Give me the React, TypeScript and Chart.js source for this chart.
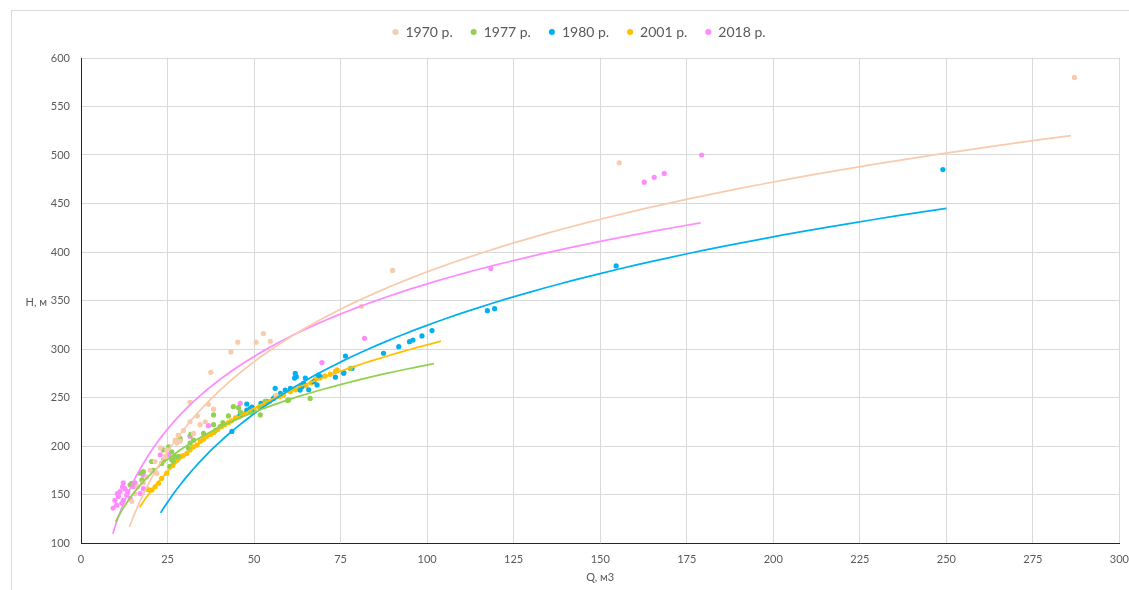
import React, { useEffect, useRef } from 'react';
import { Chart, registerables } from 'chart.js';

Chart.register(...registerables);

// ---- series labels & colours ----
const seriesNames = ['1970 р.', '1977 р.', '1980 р.', '2001 р.', '2018 р.'];
const seriesColors = ['#F8CBAD', '#92D050', '#00B0F0', '#FFC000', '#FF8BFF'];

// ---- observed points (Q, м3 / H, м) ----
const q1970 = [287, 155.5, 90, 81, 52.7, 54.7, 50.6, 45.3, 43.3, 37.5, 56.4, 31.5, 36.8, 38.3, 33.6, 35.9, 34.4, 31.5, 29.6, 32.5, 28.1, 27.7, 27.2, 24.8, 22.9, 24.3, 21.4, 20, 21.9, 19, 18, 16.3, 15.6, 14.7, 28.6];
const h1970 = [580, 492, 381, 344, 316, 308, 307, 307, 297, 276, 252, 245, 243, 238, 231, 225, 222, 225, 216, 213, 211, 203, 206, 196, 198, 189, 184, 175, 172, 168, 162, 158, 151, 143, 205];

const q1977 = [14.7, 14.2, 17.1, 17.6, 18, 20.4, 20.9, 23.3, 23.8, 23.8, 25.3, 25.7, 26.2, 26.2, 26.7, 27.2, 28.1, 28.6, 28.6, 31, 31.5, 31.7, 32.5, 35.4, 38.3, 38.3, 38.8, 40.2, 41, 42.6, 44, 45.5, 46, 48.9, 51.8, 51.8, 53.2, 59.7, 60, 66.2, 77.8];
const h1977 = [161.5, 160, 172, 165, 173.5, 184, 175, 182, 196, 185.6, 199, 179, 186, 194, 184, 189, 189, 208, 206, 198, 203, 212, 206, 213, 232, 222, 216, 220, 224, 231, 240.5, 239.5, 235, 235, 232, 241, 246, 247, 247.5, 249, 280];

const q1980 = [249, 154.6, 117.4, 119.5, 101.4, 98.5, 95.9, 94.9, 91.8, 87.4, 76.4, 75.9, 75.9, 78.3, 73.5, 68.6, 68.2, 65.8, 64.8, 61.9, 62.2, 60.5, 59, 56.1, 57.6, 55.6, 63.8, 64.3, 67.2, 69.1, 63.3, 61.7, 49.4, 47.9, 47.9, 48.9, 49.4, 46, 43.6, 52, 53.5];
const h1980 = [485, 385.6, 339.5, 341.6, 319, 313.5, 309.3, 307.6, 302.4, 295.6, 292.8, 275.6, 275, 280, 271, 273, 263, 258, 270, 275, 271.5, 259.5, 257.7, 259.5, 254.3, 249, 261, 264.6, 266.3, 271.5, 257.7, 270, 240, 237, 243.3, 238.8, 235.4, 232, 215, 244, 246];

const q2001 = [19.4, 20.5, 21.4, 22.4, 23.3, 24.8, 25.7, 26.5, 27.7, 28.6, 29.5, 30.6, 31.5, 32.4, 33.5, 34.5, 35.4, 36.3, 37.5, 38.4, 39.5, 40.6, 41.5, 42.6, 43.5, 44.6, 45.5, 46.6, 47.5, 48.6, 50, 51.5, 53, 54.5, 56.1, 57.5, 58.5, 60.5, 62, 63.3, 65, 66.5, 67.7, 68.2, 69, 70.5, 72, 73.5, 74];
const h2001 = [155, 154.6, 158, 161.5, 166.7, 172, 178.7, 180, 185.6, 189, 190, 192.5, 196, 199, 201, 205, 207, 210, 212, 214, 217, 220, 222, 224, 226, 229, 230, 233, 234, 236, 238, 240, 243, 246, 251.5, 251, 252.6, 256, 258, 261, 262, 265, 268.8, 269.8, 270, 272, 274, 277, 278.4];

const q2018 = [179.3, 162.7, 165.6, 168.5, 118.4, 81.9, 69.6, 61.9, 46, 36.8, 31.5, 25.3, 22.9, 18, 18, 17.1, 15.6, 15.1, 14.2, 13.2, 12.7, 12.2, 12.2, 11.3, 10.8, 10.3, 9.8, 9.3, 11.8, 13.5, 10.5, 12];
const h2018 = [500, 472, 477, 481, 383, 311, 286, 272, 244, 221, 210, 191, 191, 170, 156, 151, 162, 158, 146, 149.5, 156, 162, 144, 153, 148, 139, 144, 136, 141, 153, 151, 158];

const seriesQ = [q1970, q1977, q1980, q2001, q2018];
const seriesH = [h1970, h1977, h1980, h2001, h2018];

// ---- logarithmic trendlines H = a·ln(Q) + b ----
const trendA = [133.7, 70.2, 131.6, 94.4, 108];
const trendB = [-236.2, -39.7, -281.6, -130.4, -130.2];
const trendFrom = [14, 10, 23, 17, 9.2];
const trendTo = [286, 102, 250, 104, 179];

// ---- axes ----
const xMin = 0, xMax = 300, xStep = 25;
const yMin = 100, yMax = 600, yStep = 50;
const xTitle = 'Q, м3';
const yTitle = 'Н, м';

const FONT = 'Lato';
const TEXT = '#595959';
const CANVAS_W = 1139;
const CANVAS_H = 590;

function trendPoints(i: number) {
  const pts: { x: number; y: number }[] = [];
  const n = 80;
  for (let k = 0; k <= n; k++) {
    const q = trendFrom[i] * Math.pow(trendTo[i] / trendFrom[i], k / n);
    pts.push({ x: q, y: trendA[i] * Math.log(q) + trendB[i] });
  }
  return pts;
}

const axisTitlesPlugin = {
  id: 'axisTitles',
  afterDraw(chart: any) {
    const { ctx, chartArea, scales } = chart;
    ctx.save();
    ctx.font = `11px ${FONT}`;
    ctx.fillStyle = TEXT;
    ctx.textBaseline = 'middle';
    ctx.textAlign = 'right';
    ctx.fillText(yTitle, 47, scales.y.getPixelForValue(350) + 2);
    ctx.textAlign = 'center';
    ctx.fillText(xTitle, (chartArea.left + chartArea.right) / 2, 577);
    ctx.restore();
  },
};

export default function App() {
  const ref = useRef<HTMLCanvasElement | null>(null);

  useEffect(() => {
    if (!ref.current) return;
    const scatterSets = seriesNames.map((name, i) => ({
      type: 'scatter' as const,
      label: name,
      data: seriesQ[i].map((q, j) => ({ x: q, y: seriesH[i][j] })),
      backgroundColor: seriesColors[i],
      borderColor: seriesColors[i],
      pointRadius: 2.6,
      pointBorderWidth: 0,
      pointStyle: 'circle',
      showLine: false,
      order: 1,
    }));
    const trendSets = seriesNames.map((name, i) => ({
      type: 'line' as const,
      label: name + ' trend',
      data: trendPoints(i),
      borderColor: seriesColors[i],
      backgroundColor: seriesColors[i],
      borderWidth: 1.75,
      pointRadius: 0,
      fill: false,
      tension: 0,
      order: 0,
    }));

    const chart = new Chart(ref.current, {
      type: 'scatter',
      data: { datasets: [...scatterSets, ...trendSets] as any },
      options: {
        animation: false,
        responsive: false,
        events: [],
        layout: { padding: { left: 19, right: 0, top: 7, bottom: 0 } },
        plugins: {
          tooltip: { enabled: false },
          legend: {
            display: true,
            position: 'top',
            labels: {
              filter: (item: any) => item.datasetIndex < seriesNames.length,
              usePointStyle: true,
              pointStyle: 'circle',
              boxWidth: 6,
              boxHeight: 4.3,
              padding: 18,
              color: TEXT,
              font: { family: FONT, size: 14 },
            },
          },
          title: {
            display: true,
            text: '',
            weight: 500,
            font: { size: 1, lineHeight: 1 },
            padding: { top: 0, bottom: 8 },
          },
        },
        scales: {
          x: {
            type: 'linear',
            min: xMin,
            max: xMax,
            afterFit: (s: any) => { s.height = 47; },
            ticks: { stepSize: xStep, color: TEXT, font: { family: FONT, size: 11 }, padding: 10, maxRotation: 0 },
            grid: { color: '#D9D9D9', lineWidth: 1, drawTicks: false },
            border: { display: true, color: '#262626', width: 1 },
          },
          y: {
            type: 'linear',
            min: yMin,
            max: yMax,
            afterFit: (s: any) => { s.width = 62; },
            ticks: { stepSize: yStep, color: TEXT, font: { family: FONT, size: 11 }, padding: 11 },
            grid: { color: '#D9D9D9', lineWidth: 1, drawTicks: false },
            border: { display: true, color: '#262626', width: 1 },
          },
        },
      },
      plugins: [axisTitlesPlugin],
    });
    return () => chart.destroy();
  }, []);

  return (
    <div style={{ position: 'fixed', left: 0, top: 0, width: 1129, height: 590, background: '#fff', overflow: 'hidden' }}>
      <div
        style={{
          position: 'absolute',
          left: 11,
          top: 10,
          width: 1200,
          height: 700,
          borderLeft: '1px solid #D9D9D9',
          borderTop: '1px solid #D9D9D9',
          pointerEvents: 'none',
        }}
      />
      <canvas
        ref={ref}
        width={CANVAS_W}
        height={CANVAS_H}
        style={{ position: 'absolute', left: 0, top: 0, width: CANVAS_W, height: CANVAS_H }}
      />
    </div>
  );
}
